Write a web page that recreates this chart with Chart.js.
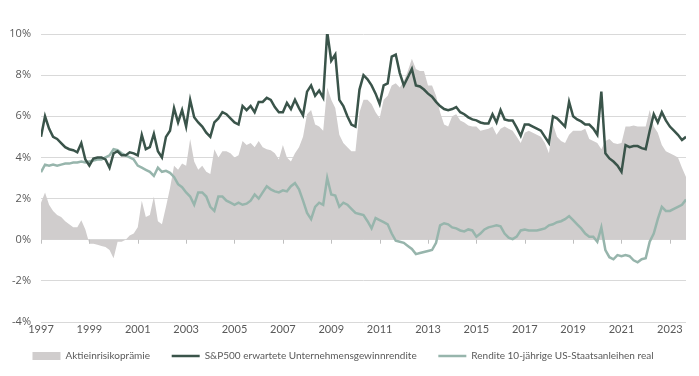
<!DOCTYPE html>
<html>
<head>
<meta charset="utf-8">
<script src="https://cdn.jsdelivr.net/npm/chart.js@4"></script>
<style>
  body { margin: 0; background: #fff; }
  #wrap { width: 699px; height: 376px; }
</style>
</head>
<body>
<div id="wrap"><canvas id="chart"></canvas></div>
<script>
// x grid: one value every two months, 1997.0 .. 2023.67
const startYear = 1997;
const stepsPerYear = 6;

const tickYears = [1997, 1999, 2001, 2003, 2005, 2007, 2009, 2011, 2013, 2015, 2017, 2019, 2021, 2023];

// S&P500 erwartete Unternehmensgewinnrendite (%)
const earningsYield = [
  5.0, 6.0, 5.4, 5.0, 4.9, 4.7,
  4.5, 4.4, 4.35, 4.25, 4.7, 3.9,
  3.6, 3.95, 4.0, 4.0, 3.9, 3.5,
  4.2, 4.3, 4.1, 4.1, 4.25, 4.2,
  4.1, 5.1, 4.4, 4.5, 5.15, 4.3,
  4.0, 5.0, 5.3, 6.4, 5.7, 6.3,
  5.5, 6.8, 5.95, 5.7, 5.5, 5.2,
  5.0, 5.7, 5.9, 6.2, 6.1, 5.9,
  5.7, 5.6, 6.5, 6.3, 6.5, 6.2,
  6.7, 6.7, 6.9, 6.8, 6.45, 6.2,
  6.2, 6.65, 6.35, 6.8, 6.4, 6.05,
  7.2, 7.5, 7.0, 7.25, 6.9, 10.1,
  8.7, 9.0, 6.8, 6.5, 6.0, 5.6,
  5.5, 7.3, 8.0, 7.8, 7.5, 7.1,
  6.6, 7.5, 7.6, 8.9, 9.0, 8.1,
  7.5, 7.9, 8.3, 7.5, 7.45, 7.3,
  7.1, 6.95, 6.7, 6.5, 6.35, 6.3,
  6.35, 6.45, 6.2, 6.1, 5.95, 5.85,
  5.8, 5.7, 5.65, 5.65, 6.1, 5.7,
  6.3, 5.85, 5.8, 5.8, 5.45, 5.05,
  5.6, 5.6, 5.5, 5.4, 5.3, 5.0,
  4.7, 6.0, 5.9, 5.7, 5.5, 6.7,
  6.0, 5.85, 5.75, 5.6, 5.6, 5.4,
  5.1, 7.2, 4.2, 3.95, 3.8, 3.6,
  3.3, 4.6, 4.5, 4.55, 4.55, 4.45,
  4.4, 5.3, 6.1, 5.7, 6.2, 5.8,
  5.5, 5.3, 5.1, 4.85, 5.0
];

// Rendite 10-jährige US-Staatsanleihen real (%)
const realYield = [
  3.28, 3.65, 3.6, 3.65, 3.6, 3.65,
  3.7, 3.7, 3.75, 3.75, 3.8, 3.75,
  3.8, 3.85, 3.9, 3.9, 4.0, 4.1,
  4.4, 4.35, 4.2, 4.1, 4.0, 3.9,
  3.6, 3.5, 3.4, 3.3, 3.1, 3.5,
  3.3, 3.35, 3.25, 3.05, 2.7, 2.55,
  2.3, 2.1, 1.7, 2.3, 2.3, 2.1,
  1.6, 1.4, 2.1, 2.1, 1.9, 1.8,
  1.7, 1.8, 1.7, 1.75, 1.9, 2.2,
  2.0, 2.3, 2.6, 2.45, 2.35, 2.3,
  2.4, 2.35, 2.6, 2.75, 2.45, 1.9,
  1.3, 1.0, 1.6, 1.8, 1.7, 3.0,
  2.2, 2.15, 1.6, 1.8, 1.7, 1.5,
  1.3, 1.25, 1.2, 0.9, 0.55, 1.05,
  0.95, 0.85, 0.75, 0.3, -0.05, -0.1,
  -0.15, -0.3, -0.45, -0.7, -0.65, -0.6,
  -0.55, -0.5, -0.15, 0.7, 0.8, 0.75,
  0.6, 0.55, 0.45, 0.4, 0.5, 0.45,
  0.15, 0.3, 0.5, 0.6, 0.65, 0.7,
  0.65, 0.3, 0.1, 0.03, 0.15, 0.45,
  0.5, 0.45, 0.45, 0.45, 0.5, 0.55,
  0.7, 0.75, 0.85, 0.9, 1.0, 1.15,
  0.95, 0.75, 0.55, 0.3, 0.15, 0.15,
  -0.1, 0.6, -0.5, -0.85, -0.95, -0.75,
  -0.8, -0.75, -0.8, -1.0, -1.1, -0.95,
  -0.9, -0.1, 0.3, 1.0, 1.6, 1.4,
  1.4, 1.5, 1.6, 1.7, 1.95
];

// Aktieinrisikoprämie (%)
const riskPremium = [
  1.8, 2.3, 1.7, 1.4, 1.2, 1.1,
  0.9, 0.75, 0.6, 0.6, 0.95, 0.5,
  -0.2, -0.2, -0.25, -0.3, -0.35, -0.5,
  -0.9, -0.1, -0.1, 0.0, 0.2, 0.3,
  0.6, 1.9, 1.1, 1.2, 2.1, 0.9,
  0.75, 1.6, 2.5, 3.6, 3.4, 3.7,
  3.6, 4.9, 3.8, 3.4, 3.6, 3.3,
  3.2, 4.4, 4.0, 4.3, 4.3, 4.2,
  4.0, 4.1, 4.8, 4.6, 4.7, 4.5,
  4.8, 4.5, 4.4, 4.35, 4.2, 3.9,
  4.6, 4.0, 3.8, 4.2, 4.5, 5.0,
  6.1, 6.3, 5.6, 5.5, 5.3, 7.4,
  6.8, 6.4, 5.1, 4.7, 4.5, 4.3,
  4.3, 6.2, 6.8, 6.8, 6.6, 6.2,
  5.9, 6.8, 7.0, 7.5, 7.6, 7.4,
  7.7, 8.2, 8.8, 8.3, 8.2, 8.2,
  7.5, 7.5, 7.0, 6.2, 5.6, 5.5,
  6.0, 6.1, 5.8, 5.7, 5.55, 5.5,
  5.5, 5.3, 5.35, 5.4, 5.5, 5.1,
  5.4, 5.5, 5.4, 5.3, 5.0, 4.7,
  5.2, 5.3, 5.2, 5.1, 5.0, 4.7,
  4.2, 5.6, 5.0, 4.8, 4.7, 5.1,
  5.3, 5.3, 5.3, 5.4, 4.9, 4.8,
  4.7, 4.4, 4.8, 4.9, 4.7, 4.65,
  4.7, 5.5, 5.5, 5.55, 5.5, 5.5,
  5.5, 6.3, 5.5, 5.2, 4.6, 4.3,
  4.2, 4.1, 4.0, 3.5, 3.05
];

const seriesNames = [
  'Aktieinrisikoprämie',
  'S&P500 erwartete Unternehmensgewinnrendite',
  'Rendite 10-jährige US-Staatsanleihen real'
];

const dates = riskPremium.map((_, i) => startYear + i / stepsPerYear);
const toPoints = arr => arr.map((v, i) => ({ x: dates[i], y: v }));

const textColor = '#595959';
const fontFamily = 'Lato, sans-serif';

// small tick marks on the 0% line, like the original
const zeroTicks = {
  id: 'zeroTicks',
  afterDatasetsDraw(chart) {
    const { ctx, scales: { x, y } } = chart;
    const y0 = y.getPixelForValue(0);
    ctx.save();
    ctx.strokeStyle = '#bfbfbf';
    ctx.lineWidth = 1;
    tickYears.forEach(t => {
      const px = Math.round(x.getPixelForValue(t)) + 0.5;
      ctx.beginPath();
      ctx.moveTo(px, y0);
      ctx.lineTo(px, y0 + 4);
      ctx.stroke();
    });
    ctx.restore();
  }
};

new Chart(document.getElementById('chart'), {
  type: 'line',
  data: {
    datasets: [{
      label: seriesNames[0],
      data: toPoints(riskPremium),
      fill: 'origin',
      backgroundColor: '#d0cdcd',
      borderColor: '#d0cdcd',
      borderWidth: 0,
      pointRadius: 0
    }, {
      label: seriesNames[1],
      data: toPoints(earningsYield),
      fill: false,
      borderColor: '#3a544a',
      borderWidth: 2.5,
      pointRadius: 0
    }, {
      label: seriesNames[2],
      data: toPoints(realYield),
      fill: false,
      borderColor: '#97b5ac',
      borderWidth: 2.5,
      pointRadius: 0
    }]
  },
  options: {
    responsive: true,
    maintainAspectRatio: false,
    animation: false,
    layout: { padding: { top: 34, right: 13, bottom: 5, left: 0 } },
    elements: { line: { tension: 0 } },
    plugins: {
      filler: { drawTime: 'beforeDatasetsDraw' },
      tooltip: { enabled: false },
      legend: {
        position: 'bottom',
        labels: {
          usePointStyle: true,
          pointStyleWidth: 28,
          boxHeight: 8,
          padding: 14,
          color: textColor,
          font: { family: fontFamily, size: 10 },
          generateLabels(chart) {
            return chart.data.datasets.map((ds, i) => ({
              text: ds.label + (i < 2 ? '\u00a0\u00a0\u00a0' : ''),
              fillStyle: i === 0 ? ds.backgroundColor : 'transparent',
              strokeStyle: ds.borderColor,
              lineWidth: i === 0 ? 0 : 2.5,
              pointStyle: i === 0 ? 'rect' : 'line',
              fontColor: textColor,
              hidden: false,
              datasetIndex: i
            }));
          }
        }
      }
    },
    scales: {
      x: {
        type: 'linear',
        min: startYear,
        max: dates[dates.length - 1],
        grid: { display: false, drawTicks: false },
        border: { display: false },
        afterBuildTicks(scale) {
          scale.ticks = tickYears.map(v => ({ value: v }));
        },
        afterFit(scale) { scale.height = 15; },
        ticks: {
          padding: 1,
          maxRotation: 0,
          autoSkip: false,
          color: textColor,
          font: { family: fontFamily, size: 11 },
          callback: v => String(v)
        }
      },
      y: {
        min: -4,
        max: 10,
        grid: { color: '#d9d9d9', drawTicks: false },
        border: { display: false },
        afterFit(scale) { scale.width = 41; },
        ticks: {
          stepSize: 2,
          padding: 10,
          color: textColor,
          font: { family: '"Open Sans", Lato, sans-serif', size: 11 },
          callback: v => v + '%'
        }
      }
    }
  },
  plugins: [zeroTicks]
});
</script>
</body>
</html>
